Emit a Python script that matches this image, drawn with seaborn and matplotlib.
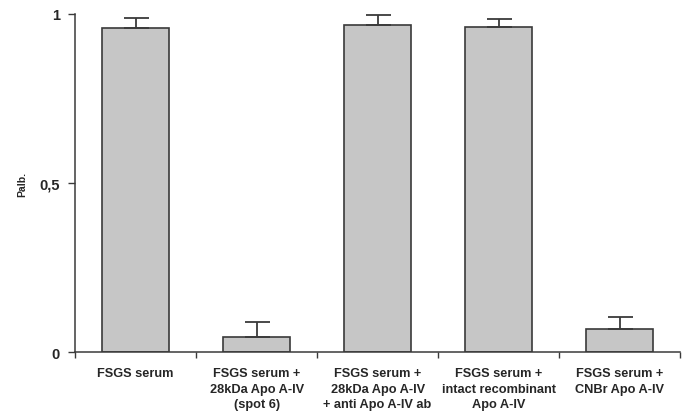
import numpy as np
import pandas as pd
import matplotlib
matplotlib.use("Agg")
import matplotlib.pyplot as plt
import seaborn as sns

categories = [
    "FSGS serum",
    "FSGS serum +\n28kDa Apo A-IV\n(spot 6)",
    "FSGS serum +\n28kDa Apo A-IV\n+ anti Apo A-IV ab",
    "FSGS serum +\nintact recombinant\nApo A-IV",
    "FSGS serum +\nCNBr Apo A-IV",
]
palb = [0.959, 0.045, 0.968, 0.960, 0.068]
palb_err = [0.030, 0.045, 0.030, 0.026, 0.035]

sns.set_style("white")
plt.rcParams["font.family"] = ["Liberation Sans", "DejaVu Sans"]
plt.rcParams["font.weight"] = "bold"

df = pd.DataFrame({"group": categories, "palb": palb})

fig, ax = plt.subplots(figsize=(6.89, 4.14), dpi=100)
fig.subplots_adjust(left=0.109, right=0.987, bottom=0.147, top=0.964)

sns.barplot(data=df, x="group", y="palb", color="#c6c6c6", saturation=1,
            width=0.555, edgecolor="#3a3a3a", linewidth=1.2, errorbar=None, ax=ax)
ax.errorbar(np.arange(len(palb)), palb, yerr=[np.zeros(len(palb)), palb_err],
            fmt="none", ecolor="#3a3a3a", elinewidth=1.3, capsize=9, capthick=1.3)

ax.set_xlim(-0.5, len(categories) - 0.5)
ax.set_ylim(0, 1)
ax.set_yticks([0, 0.5, 1])
ax.set_yticklabels(["0", "0,5", "1"], fontsize=10.5, fontweight="bold")
ax.set_xticks(np.arange(len(categories)))
ax.set_xticklabels(categories, fontsize=9.2, fontweight="bold", linespacing=1.42)
ax.set_xticks(np.arange(len(categories) + 1) - 0.5, minor=True)
ax.tick_params(axis="x", which="major", length=0, pad=10.5)
ax.tick_params(axis="x", which="minor", length=4, width=1, color="#3a3a3a", direction="out", bottom=True)
ax.tick_params(axis="y", length=5, width=1, color="#3a3a3a", direction="out", left=True, pad=6)

ax.set_xlabel("")
ax.set_ylabel("Palb.", fontsize=7.5, fontweight="bold", labelpad=9)

sns.despine(ax=ax)
for side in ["left", "bottom"]:
    ax.spines[side].set_color("#3a3a3a")
    ax.spines[side].set_linewidth(1.1)

fig.savefig("out.png", dpi=100)
